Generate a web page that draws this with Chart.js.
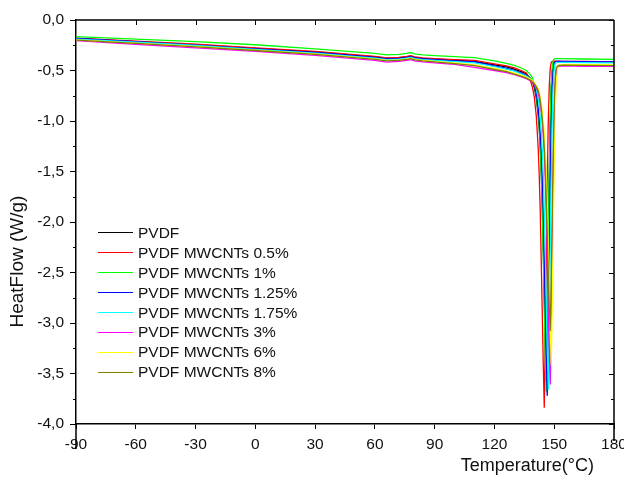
<!DOCTYPE html>
<html>
<head>
<meta charset="utf-8">
<script src="https://cdn.jsdelivr.net/npm/chart.js@4.4.0/dist/chart.umd.min.js"></script>
<style>
  body { margin: 0; background: #fff; }
  #wrap { position: relative; width: 624px; height: 477px; }
  #myChart { position: absolute; left: 0; top: 0; }
  #legend { position: absolute; left: 98px; top: 223px; font: 15.5px "Liberation Sans", Arial, sans-serif; color: #111; }
  .row { display: flex; align-items: center; height: 19.9px; white-space: nowrap; }
  .swatch { width: 35px; height: 1px; margin-right: 5px; }
</style>
</head>
<body>
<div id="wrap">
  <canvas id="myChart" width="624" height="477"></canvas>
  <div id="legend"></div>
</div>
<script>
// temperature grid (°C), denser around the melting peak
const temps = [-90, -60, -30, 0, 30, 60, 66, 72, 76, 78, 80, 84, 90, 100, 110, 120, 126, 130, 134, 136,
  138, 139, 140, 141, 142, 142.5, 143, 143.5, 144, 144.5, 145, 145.5, 146, 146.5, 147, 147.5,
  148, 148.5, 149, 149.5, 150, 150.5, 151, 152, 155, 165, 180];

const seriesNames = ["PVDF", "PVDF MWCNTs 0.5%", "PVDF MWCNTs 1%", "PVDF MWCNTs 1.25%",
  "PVDF MWCNTs 1.75%", "PVDF MWCNTs 3%", "PVDF MWCNTs 6%", "PVDF MWCNTs 8%"];
const seriesColors = ["#000000", "#ff0000", "#00ff00", "#0000ff", "#00ffff", "#ff00ff", "#ffff00", "#808000"];

const pvdf = [-0.185, -0.215, -0.245, -0.28, -0.318, -0.365, -0.38, -0.375, -0.365, -0.357, -0.37, -0.38,
  -0.388, -0.398, -0.41, -0.445, -0.465, -0.487, -0.515, -0.535, -0.575, -0.6, -0.67, -0.77,
  -0.95, -1.08, -1.27, -1.52, -1.85, -2.28, -2.75, -3.2, -3.58, -2.95, -2.25, -1.55, -1.0, -0.66, -0.5, -0.43,
  -0.415, -0.412, -0.412, -0.412, -0.413, -0.415, -0.418];
const cnt05 = [-0.18, -0.21, -0.24, -0.275, -0.31, -0.36, -0.375, -0.37, -0.36, -0.352, -0.365, -0.375,
  -0.382, -0.392, -0.40, -0.435, -0.455, -0.475, -0.505, -0.525, -0.6, -0.66, -0.76, -0.95,
  -1.28, -1.55, -1.9, -2.4, -2.9, -3.4, -3.84, -3.15, -2.4, -1.6, -1.02, -0.66, -0.48, -0.42, -0.41, -0.408,
  -0.408, -0.408, -0.408, -0.408, -0.409, -0.411, -0.415];
const cnt1 = [-0.165, -0.19, -0.215, -0.245, -0.285, -0.33, -0.345, -0.34, -0.33, -0.322, -0.335, -0.345,
  -0.352, -0.362, -0.372, -0.405, -0.43, -0.45, -0.48, -0.5, -0.54, -0.57, -0.64, -0.74,
  -0.92, -1.05, -1.25, -1.5, -1.85, -2.3, -2.8, -3.3, -3.68, -3.0, -2.3, -1.55, -1.0, -0.65, -0.48, -0.4,
  -0.385, -0.382, -0.382, -0.382, -0.383, -0.386, -0.39];
const cnt125 = [-0.182, -0.215, -0.248, -0.285, -0.322, -0.37, -0.385, -0.38, -0.37, -0.362, -0.375, -0.385,
  -0.393, -0.404, -0.415, -0.455, -0.48, -0.5, -0.53, -0.55, -0.58, -0.61, -0.64, -0.72,
  -0.88, -1.0, -1.13, -1.3, -1.55, -1.9, -2.35, -2.85, -3.3, -3.72, -3.05, -2.35, -1.6, -1.02, -0.66, -0.5,
  -0.43, -0.415, -0.41, -0.41, -0.41, -0.412, -0.415];
const cnt175 = [-0.19, -0.22, -0.252, -0.29, -0.328, -0.378, -0.392, -0.387, -0.377, -0.37, -0.383, -0.393,
  -0.4, -0.412, -0.425, -0.462, -0.487, -0.507, -0.537, -0.555, -0.58, -0.6, -0.63, -0.68,
  -0.78, -0.85, -0.96, -1.1, -1.28, -1.52, -1.87, -2.3, -2.8, -3.25, -3.66, -3.0, -2.3, -1.55, -1.0, -0.65,
  -0.48, -0.43, -0.42, -0.42, -0.42, -0.422, -0.425];
const cnt3 = [-0.205, -0.24, -0.275, -0.31, -0.35, -0.4, -0.418, -0.41, -0.4, -0.392, -0.405, -0.415,
  -0.425, -0.44, -0.47, -0.5, -0.52, -0.54, -0.565, -0.58, -0.6, -0.62, -0.64, -0.67,
  -0.72, -0.77, -0.83, -0.9, -1.0, -1.13, -1.3, -1.55, -1.9, -2.35, -2.8, -3.22, -3.61, -2.95, -2.25, -1.5,
  -0.98, -0.65, -0.5, -0.46, -0.455, -0.458, -0.46];
const cnt6 = [-0.196, -0.228, -0.262, -0.298, -0.335, -0.385, -0.4, -0.395, -0.385, -0.378, -0.39, -0.4,
  -0.41, -0.425, -0.445, -0.48, -0.505, -0.525, -0.55, -0.565, -0.585, -0.6, -0.62, -0.65,
  -0.68, -0.72, -0.77, -0.83, -0.9, -1.0, -1.12, -1.28, -1.5, -1.82, -2.2, -2.6, -3.02, -3.42, -2.8, -2.1,
  -1.4, -0.9, -0.6, -0.45, -0.44, -0.442, -0.445];
const cnt8 = [-0.2, -0.232, -0.266, -0.302, -0.34, -0.39, -0.405, -0.4, -0.39, -0.383, -0.395, -0.405,
  -0.415, -0.432, -0.452, -0.49, -0.512, -0.535, -0.56, -0.575, -0.595, -0.61, -0.63, -0.66,
  -0.7, -0.74, -0.8, -0.88, -0.98, -1.1, -1.26, -1.48, -1.78, -2.12, -2.5, -2.85, -3.08, -2.55, -1.95, -1.3,
  -0.85, -0.58, -0.47, -0.45, -0.448, -0.45, -0.452];

const seriesValues = [pvdf, cnt05, cnt1, cnt125, cnt175, cnt3, cnt6, cnt8];

const font = "'Liberation Sans', Arial, sans-serif";
const pad = (n) => "\u00a0".repeat(n);

// Origin-style box: top/right lines, inward ticks, minor ticks
const frame = {
  id: "frame",
  afterDraw(chart) {
    const { ctx, chartArea: a, scales: { x, y } } = chart;
    ctx.save();
    ctx.strokeStyle = "#000";
    ctx.lineWidth = 1.5;
    ctx.beginPath();
    ctx.moveTo(a.left, a.top); ctx.lineTo(a.right, a.top);
    ctx.moveTo(a.right, a.top); ctx.lineTo(a.right, a.bottom + 17);
    ctx.moveTo(a.left, a.bottom); ctx.lineTo(a.left, a.bottom + 25);
    ctx.stroke();
    ctx.lineWidth = 1;
    ctx.beginPath();
    for (let k = 0; k <= 16; k++) {
      const py = Math.round(y.getPixelForValue(-k * 0.25)) + 0.5;
      const major = k % 2 === 0;
      ctx.moveTo(a.right, py); ctx.lineTo(a.right - (major ? 5 : 3), py);
      if (!major) { ctx.moveTo(a.left, py); ctx.lineTo(a.left - 3, py); }
    }
    for (let t = -60; t < 180; t += 30) {
      const px = Math.round(x.getPixelForValue(t)) + 0.5;
      ctx.moveTo(px, a.top); ctx.lineTo(px, a.top + 5);
    }
    ctx.stroke();
    ctx.restore();
  }
};

const ctx = document.getElementById("myChart").getContext("2d");

const myChart = new Chart(ctx, {
  type: "line",
  data: {
    datasets: seriesNames.map((name, i) => ({
      label: name,
      data: temps.map((t, j) => ({ x: t, y: seriesValues[i][j] })),
      borderColor: seriesColors[i],
      borderWidth: 1.3,
      pointRadius: 0,
      tension: 0,
      fill: false,
      order: seriesNames.length - 1 - i,
    })),
  },
  options: {
    responsive: false,
    animation: false,
    layout: { padding: { left: 0, right: 10, top: 20, bottom: 0 } },
    plugins: { legend: { display: false }, tooltip: { enabled: false } },
    scales: {
      x: {
        type: "linear",
        min: -90,
        max: 180,
        ticks: { stepSize: 30, color: "#111", font: { family: font, size: 15.5 }, padding: 6, maxRotation: 0 },
        grid: { drawOnChartArea: false, color: "#000", tickLength: 5 },
        border: { color: "#000", width: 1.5 },
        title: {
          display: true,
          text: "Temperature(°C)" + pad(4),
          align: "end",
          color: "#111",
          font: { family: font, size: 18 },
          padding: { top: 0, bottom: 0 },
        },
        afterFit: (s) => { s.height = 53; s.paddingLeft = 0; s.paddingRight = 0; },
      },
      y: {
        min: -4,
        max: 0,
        ticks: {
          stepSize: 0.5,
          color: "#111",
          font: { family: font, size: 15.5 },
          padding: 6,
          callback: (v) => v.toFixed(1).replace(".", ","),
        },
        grid: { drawOnChartArea: false, color: "#000", tickLength: 6 },
        border: { color: "#000", width: 1.5 },
        title: {
          display: true,
          text: "HeatFlow (W/g)" + pad(15),
          color: "#111",
          font: { family: font, size: 19 },
          padding: { top: 6, bottom: 0 },
        },
        afterFit: (s) => { s.width = 76; s.paddingTop = 0; s.paddingBottom = 0; },
      },
    },
  },
  plugins: [frame],
});

// legend drawn inside the plot, lower left
const legendEl = document.getElementById("legend");
seriesNames.forEach((name, i) => {
  const row = document.createElement("div");
  row.className = "row";
  const sw = document.createElement("span");
  sw.className = "swatch";
  sw.style.background = seriesColors[i];
  const label = document.createElement("span");
  label.textContent = name;
  row.appendChild(sw);
  row.appendChild(label);
  legendEl.appendChild(row);
});
</script>
</body>
</html>
